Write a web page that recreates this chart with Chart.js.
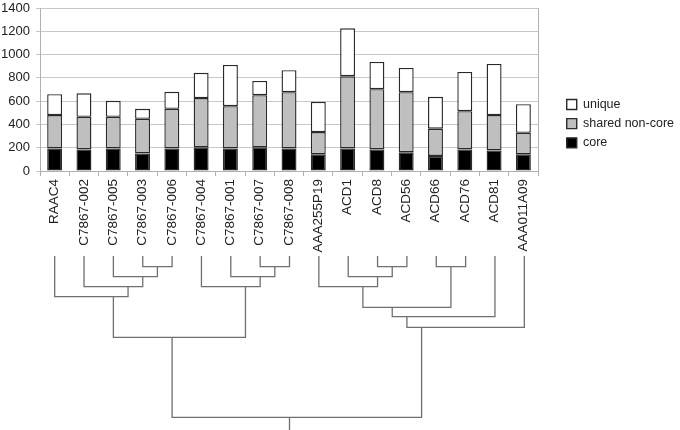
<!DOCTYPE html>
<html lang="en">

<head>
  <meta charset="utf-8" />
  <title>Genome content and clustering</title>
  <script src="https://cdn.jsdelivr.net/npm/chart.js"></script>
  <style>
    body { margin: 0; background: #fff; overflow: hidden; }
    #wrap { position: relative; width: 680px; height: 430px; }
    #barBox { position: absolute; left: 0; top: -8px; width: 680px; height: 264px; }
    #treeBox { position: absolute; left: 0; top: 250px; width: 680px; height: 180px; }
  </style>
</head>

<body>
  <div id="wrap">
    <div id="treeBox"><canvas id="treeChart"></canvas></div>
    <div id="barBox"><canvas id="barChart"></canvas></div>
  </div>

  <script>
    // genomes, in dendrogram leaf order
    const genomes = ['RAAC4', 'C7867-002', 'C7867-005', 'C7867-003', 'C7867-006', 'C7867-004',
      'C7867-001', 'C7867-007', 'C7867-008', 'AAA255P19', 'ACD1', 'ACD8', 'ACD56', 'ACD66',
      'ACD76', 'ACD81', 'AAA011A09'];

    // gene counts per genome
    const core = [194, 185, 194, 151, 194, 203, 194, 203, 194, 143, 194, 185, 160, 129, 185, 177, 143];
    const sharedNonCore = [286, 280, 271, 297, 340, 423, 363, 448, 483, 191, 620, 518, 517, 234, 329, 303, 185];
    const unique = [180, 203, 138, 86, 146, 217, 354, 123, 189, 260, 412, 234, 208, 274, 337, 440, 246];

    const yTicks = [0, 200, 400, 600, 800, 1000, 1200, 1400];

    // dendrogram merges: [childA, childB, height]; ids 0-16 are leaves, 17+ are merged clusters
    const merges = [
      [3, 4, 1.07], [2, 17, 2.07], [1, 18, 3.07], [0, 19, 4.07],
      [7, 8, 1.07], [6, 21, 2.07], [5, 22, 3.07], [20, 23, 8.13],
      [11, 12, 1.07], [10, 25, 2.07], [9, 26, 3.07], [13, 14, 1.07],
      [27, 28, 5.13], [29, 15, 6.07], [30, 16, 7.13], [24, 31, 16.13]
    ];
    const rootStemEnd = 17.4;

    const font = 'Liberation Sans';
    const gridColor = '#c8c8c8';
    const axisColor = '#b0b0b0';
    const barBorder = '#2a2a2a';

    new Chart(document.getElementById('barChart'), {
      type: 'bar',
      data: {
        labels: genomes,
        datasets: [
          { label: 'core', data: core, backgroundColor: '#000' },
          { label: 'shared non-core', data: sharedNonCore, backgroundColor: '#bfbfbf' },
          { label: 'unique', data: unique, backgroundColor: '#fff' }
        ].map(d => Object.assign(d, {
          borderColor: barBorder, borderWidth: 1.4, borderSkipped: false,
          categoryPercentage: 1, barPercentage: 0.51
        }))
      },
      options: {
        responsive: true,
        maintainAspectRatio: false,
        animation: false,
        layout: { padding: { top: 16, right: -4, bottom: 0, left: 0 } },
        plugins: {
          tooltip: { enabled: false },
          legend: {
            position: 'right',
            align: 'start',
            reverse: true,
            maxWidth: 140,
            // blank title only pushes the items down to the middle of the plot
            title: { display: true, text: ' ', padding: { top: 68.5, bottom: 0 }, font: { family: font, size: 12.5 } },
            labels: {
              boxWidth: 10, boxHeight: 10, padding: 6.7, color: '#222',
              font: { family: font, size: 12.5 }
            }
          }
        },
        scales: {
          x: {
            stacked: true,
            grid: { drawOnChartArea: false, drawTicks: true, tickLength: 5, color: axisColor },
            border: { color: axisColor },
            ticks: {
              minRotation: 90, maxRotation: 90, autoSkip: false, padding: 3,
              color: '#222', font: { family: font, size: 13.5 }
            },
            afterFit: s => { s.height = 85; }
          },
          y: {
            stacked: true,
            min: 0, max: 1400,
            afterBuildTicks: s => { s.ticks = yTicks.map(v => ({ value: v })); },
            grid: { color: gridColor, tickLength: 4 },
            border: { color: axisColor },
            ticks: {
              padding: 6, color: '#222', font: { family: font, size: 13 },
              callback: v => String(v)
            },
            afterFit: s => { s.width = 40; }
          },
          yr: {
            position: 'right',
            min: 0, max: 1400,
            grid: { display: false },
            ticks: { display: false },
            border: { color: axisColor },
            afterFit: s => { s.width = 22; }
          }
        }
      }
    });

    // build the dendrogram as line segments in (leaf index, height) space
    const nodeX = genomes.map((_, i) => i);
    const nodeH = genomes.map(() => 0);
    const nodeN = genomes.map(() => 1);
    const treeSets = merges.map(([a, b, h]) => {
      const n = nodeN[a] + nodeN[b];
      nodeX.push((nodeX[a] * nodeN[a] + nodeX[b] * nodeN[b]) / n);
      nodeN.push(n);
      nodeH.push(h);
      return {
        data: [
          { x: nodeX[a], y: nodeH[a] }, { x: nodeX[a], y: h },
          { x: nodeX[b], y: h }, { x: nodeX[b], y: nodeH[b] }
        ]
      };
    });
    const root = nodeX.length - 1;
    treeSets.push({ data: [{ x: nodeX[root], y: nodeH[root] }, { x: nodeX[root], y: rootStemEnd }] });

    new Chart(document.getElementById('treeChart'), {
      type: 'line',
      data: {
        datasets: treeSets.map(d => Object.assign(d, {
          borderColor: '#707070', borderWidth: 1.3, pointRadius: 0, tension: 0, fill: false
        }))
      },
      options: {
        responsive: true,
        maintainAspectRatio: false,
        animation: false,
        layout: { padding: { top: 6, right: 141, bottom: 0, left: 40 } },
        plugins: { legend: { display: false }, tooltip: { enabled: false } },
        scales: {
          x: { type: 'linear', min: -0.5, max: genomes.length - 0.5, display: false },
          y: { type: 'linear', min: 0, max: rootStemEnd, reverse: true, display: false }
        }
      }
    });
  </script>
</body>

</html>
